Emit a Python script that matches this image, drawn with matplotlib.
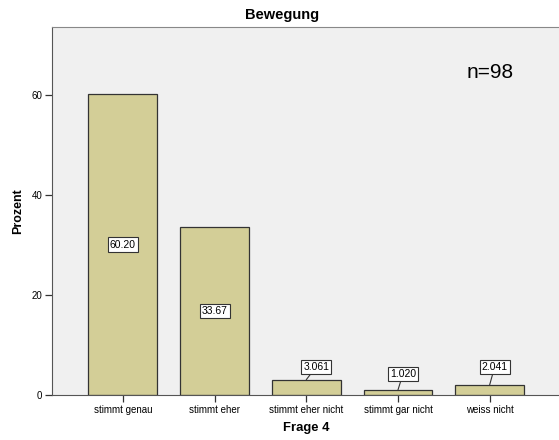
import matplotlib
matplotlib.use("Agg")
import matplotlib.pyplot as plt

plt.rcParams['font.family'] = ['Liberation Sans', 'DejaVu Sans']

categories = ["stimmt genau", "stimmt eher", "stimmt eher nicht", "stimmt gar nicht", "weiss nicht"]
values = [60.20, 33.67, 3.061, 1.020, 2.041]
labels = ["60.20", "33.67", "3.061", "1.020", "2.041"]
yticks = [0, 20, 40, 60]

fig = plt.figure(figsize=(5.59, 4.40), dpi=100)
ax = fig.add_axes([52/559, 1-395/440, 1-52/559, (395-27)/440])
ax.set_facecolor('#F0F0F0')

x = list(range(len(categories)))
ax.bar(x, values, width=0.75, color='#D3CE97', edgecolor='#333333', linewidth=0.9, zorder=2)

ax.set_xlim(-0.773, 4.756)
ax.set_ylim(0, 73.6)
ax.set_yticks(yticks)
ax.set_yticklabels([str(t) for t in yticks], fontsize=7)
ax.set_xticks(x)
ax.set_xticklabels(categories, fontsize=7)
ax.tick_params(axis='both', direction='out', length=5, width=0.9, color='#333333', pad=2)

ax.spines['right'].set_visible(False)
ax.spines['top'].set_color('#888888')
ax.spines['left'].set_color('#555555')
ax.spines['bottom'].set_color('#555555')

bbox = dict(boxstyle='square,pad=0.2', facecolor='white', edgecolor='#333333', linewidth=0.8)
offsets = {2: (10, 13), 3: (5, 16), 4: (5, 18)}
for i, (v, lab) in enumerate(zip(values, labels)):
    if i in offsets:
        dx, dy = offsets[i]
        ax.annotate(lab, xy=(i, v), xytext=(dx, dy), textcoords='offset pixels',
                    ha='center', va='center', fontsize=7.5, bbox=bbox,
                    arrowprops=dict(arrowstyle='-', color='#333333', lw=0.8, shrinkA=0, shrinkB=0),
                    zorder=4)
    else:
        ax.text(i, v / 2, lab, ha='center', va='center', fontsize=7.5, bbox=bbox, zorder=4)

ax.text((490-52)/507, (395-72)/368, "n=98", transform=ax.transAxes, ha='center', va='center', fontsize=15)

fig.text(282/559, 1-15/440, "Bewegung", ha='center', va='center', fontsize=10.5, fontweight='bold')
fig.text(18/559, 1-211/440, "Prozent", ha='center', va='center', fontsize=9, fontweight='bold', rotation=90)
fig.text(306/559, 1-428/440, "Frage 4", ha='center', va='center', fontsize=9.4, fontweight='bold')

fig.savefig("out.png", dpi=100)
